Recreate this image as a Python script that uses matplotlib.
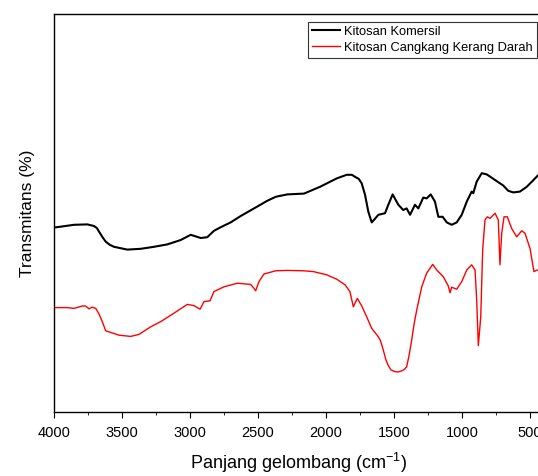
import matplotlib
matplotlib.use("Agg")
import matplotlib.pyplot as plt
from matplotlib.ticker import MultipleLocator

plt.rcParams['font.family'] = ['Liberation Sans', 'DejaVu Sans']
plt.rcParams['mathtext.fontset'] = 'custom'
plt.rcParams['mathtext.rm'] = 'Liberation Sans'

# wavenumber (cm-1) and transmittance (arb. %)
wn_komersil = [4000, 3853, 3755, 3706, 3685, 3669, 3645, 3620, 3590, 3559, 3461, 3362, 3265,
               3167, 3068, 2995, 2921, 2873, 2824, 2774, 2701, 2627, 2529, 2432, 2370, 2285,
               2162, 2044, 1921, 1848, 1810, 1787, 1760, 1738, 1713, 1689, 1664, 1640, 1615,
               1566, 1542, 1510, 1468, 1432, 1407, 1382, 1346, 1321, 1285, 1260, 1230, 1199,
               1174, 1142, 1112, 1076, 1039, 1002, 965, 929, 917, 892, 855, 818, 770, 696,
               660, 623, 574, 524, 480, 443, 400]
t_komersil = [46.1, 46.8, 46.9, 46.5, 46.0, 45.1, 43.8, 42.6, 41.8, 41.3, 40.6, 40.8, 41.3,
              41.9, 43.0, 44.3, 43.5, 43.7, 45.3, 46.2, 47.4, 49.0, 50.9, 52.8, 53.8, 54.4,
              54.6, 56.3, 58.4, 59.3, 59.3, 58.8, 58.3, 57.2, 54.3, 50.1, 47.4, 48.3, 49.3,
              49.7, 51.8, 54.4, 51.8, 50.5, 50.9, 49.3, 51.8, 50.9, 53.6, 53.4, 54.4, 52.6,
              48.8, 48.8, 47.4, 46.8, 47.4, 49.3, 52.6, 55.1, 54.7, 57.6, 59.7, 59.4, 58.3, 56.6,
              55.3, 54.9, 55.1, 56.3, 57.8, 59.1, 60.0]

wn_kerang = [4000, 3902, 3853, 3792, 3767, 3743, 3718, 3693, 3669, 3645, 3620, 3583,
             3522, 3436, 3375, 3289, 3215, 3118, 3020, 2971, 2926, 2897, 2853, 2824,
             2750, 2652, 2554, 2529, 2517, 2493, 2456, 2370, 2285, 2162, 2093, 1995,
             1921, 1860, 1824, 1799, 1770, 1737, 1701, 1664, 1615, 1599, 1579, 1559, 1542,
             1522, 1493, 1470, 1443, 1426, 1407, 1390, 1370, 1353, 1333, 1296, 1260, 1215,
             1186, 1137, 1101, 1088, 1076, 1039, 1002, 965, 929, 904, 892, 880, 862, 848,
             831, 814, 794, 757, 733, 721, 708, 691, 667, 635, 598, 561, 537, 500, 471,
             446, 400]
t_kerang = [26.1, 26.1, 25.9, 26.5, 26.5, 25.8, 26.2, 25.9, 24.5, 22.6, 20.3, 19.9,
            19.2, 18.9, 19.4, 21.3, 22.6, 24.7, 26.9, 26.6, 25.7, 27.6, 27.8, 30.1,
            31.3, 32.2, 31.9, 30.9, 30.3, 32.6, 34.5, 35.3, 35.4, 35.3, 35.1, 34.3,
            33.2, 31.8, 30.1, 26.3, 28.4, 26.5, 23.8, 20.9, 18.8, 17.8, 15.5, 13.0, 11.6,
            10.5, 10.1, 10.0, 10.3, 10.6, 11.3, 14.0, 18.0, 21.8, 25.5, 31.3, 34.7, 36.9,
            35.5, 33.8, 31.5, 29.8, 31.2, 30.7, 32.6, 35.5, 36.8, 35.5, 28.0, 16.6, 23.8, 40.5,
            48.0, 48.8, 48.4, 49.7, 48.0, 36.8, 44.7, 48.8, 48.8, 45.9, 43.8, 45.3, 44.7, 40.9,
            35.1, 35.5, 35.5]

fig = plt.figure(figsize=(5.38, 4.76), dpi=100)
ax = fig.add_axes([54 / 538, 64 / 476, 489.6 / 538, 398 / 476])

ax.plot(wn_komersil, t_komersil, color='black', lw=1.5, label='Kitosan Komersil')
ax.plot(wn_kerang, t_kerang, color='#ff0000', lw=1.0, label='Kitosan Cangkang Kerang Darah')

ax.set_xlim(4000, 400)
ax.set_ylim(0, 99.5)
ax.xaxis.set_major_locator(MultipleLocator(500))
ax.xaxis.set_minor_locator(MultipleLocator(250))
ax.tick_params(axis='x', which='major', direction='out', length=4, labelsize=10.5, pad=6)
ax.tick_params(axis='x', which='minor', direction='out', length=2.5)
ax.set_yticks([])
for s in ax.spines.values():
    s.set_linewidth(1.0)

ax.set_xlabel('Panjang gelombang (cm$^{\\mathregular{-1}}$)', fontsize=13, labelpad=8)
ax.set_ylabel('Transmitans (%)', fontsize=12.5, labelpad=14)

leg = ax.legend(loc='upper right', bbox_to_anchor=(537 / 538, 1 - 22 / 476),
                bbox_transform=fig.transFigure, fontsize=9.3, frameon=True,
                fancybox=False, handlelength=2.2, borderpad=0.3, labelspacing=0.3,
                handletextpad=0.35, borderaxespad=0)
leg.get_frame().set_edgecolor('black')
leg.get_frame().set_linewidth(0.8)

fig.savefig('out.png', dpi=100)
